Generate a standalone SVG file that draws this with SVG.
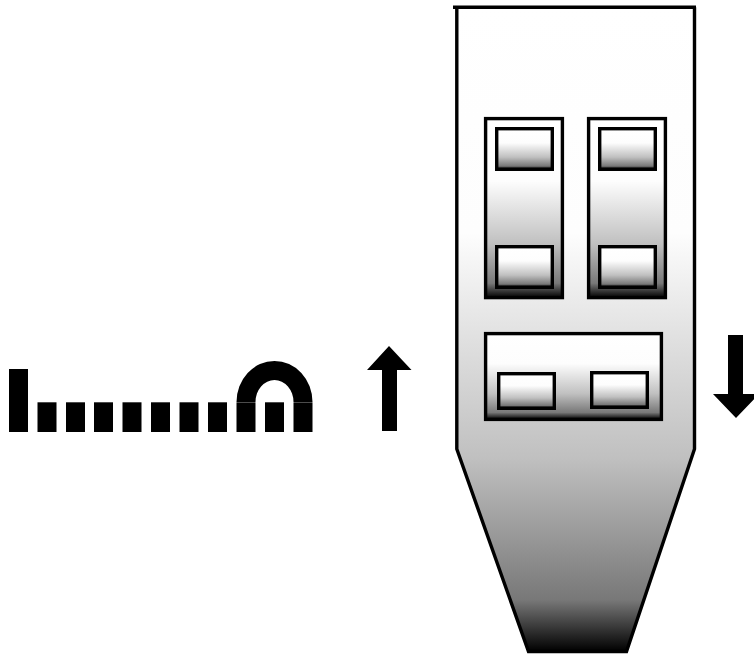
<svg xmlns="http://www.w3.org/2000/svg" width="754" height="654" viewBox="0 0 754 654">
<style>
.b{fill:url(#g);stroke:#000;stroke-width:3.4}
.s{fill:url(#g);stroke:#000;stroke-width:3.4}
.k{fill:#000}
</style>
<defs>
<linearGradient id="g" x1="0" y1="0" x2="0" y2="1">
<stop offset="0" stop-color="#fff"/>
<stop offset="0.35" stop-color="#fdfdfd"/>
<stop offset="0.7" stop-color="#c0c0c0"/>
<stop offset="0.92" stop-color="#787878"/>
<stop offset="1" stop-color="#000"/>
</linearGradient>
</defs>
<rect width="754" height="654" fill="#fff"/>
<g id="connectors"></g>
<g id="wave">
<rect class="k" x="9" y="369" width="19" height="63"/>
<rect class="k" x="37.500" y="402.300" width="19" height="29.700"/>
<rect class="k" x="66" y="402.300" width="19" height="29.700"/>
<rect class="k" x="94" y="402.300" width="19" height="29.700"/>
<rect class="k" x="122.500" y="402.300" width="19" height="29.700"/>
<rect class="k" x="151" y="402.300" width="19" height="29.700"/>
<rect class="k" x="179.500" y="402.300" width="19" height="29.700"/>
<rect class="k" x="208" y="402.300" width="19" height="29.700"/>
<rect class="k" x="236.500" y="402.300" width="19" height="29.700"/>
<rect class="k" x="265" y="402.300" width="19" height="29.700"/>
<rect class="k" x="293.500" y="402.300" width="19" height="29.700"/>
<path class="k" d="M236.500 402A38 41 0 0 1 312.500 402H293.500A19 22 0 0 0 255.500 402Z"/>
</g>
<g id="arrow-up"><path class="k" d="M389 346L411.500 370H397V431H382V370H367Z"/></g>
<g id="arrow-down"><path class="k" d="M728 335H743V394H759L736 418L713 394H728Z"/></g>
<g id="body">
<path class="b" d="M453 7.300H696M456.800 7.300V449L528.500 651.500H626.500L694.500 449V7.300"/>
</g>
<g id="panel-left">
<rect class="b" x="485.600" y="118.600" width="76.800" height="179"/>
<rect class="s" x="496.700" y="128.700" width="55.600" height="40.600"/>
<rect class="s" x="496.700" y="246.700" width="55.600" height="40.600"/>
</g>
<g id="panel-right">
<rect class="b" x="588.600" y="118.600" width="76.800" height="179"/>
<rect class="s" x="599.700" y="128.700" width="55.600" height="40.600"/>
<rect class="s" x="599.700" y="246.700" width="55.600" height="40.600"/>
</g>
<g id="panel-bottom">
<rect class="b" x="485.600" y="333.600" width="175.800" height="85.800"/>
<rect class="s" x="498.700" y="373.700" width="55.600" height="34.600"/>
<rect class="s" x="591.700" y="372.700" width="55.600" height="34.600"/>
</g>
</svg>
